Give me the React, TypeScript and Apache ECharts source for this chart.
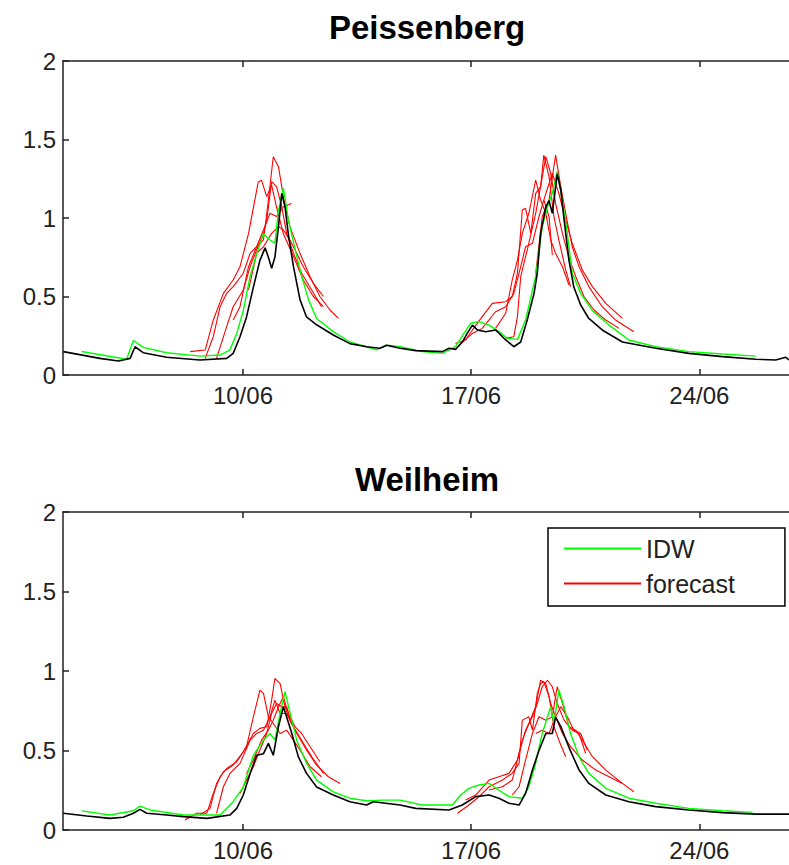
import React, { useEffect, useRef } from "react";
import * as echarts from "echarts";

// ---------- axes ----------
const X_MIN = 4.48; // day of June at left edge of plots
const X_MAX = 26.75; // day of June at right edge
const X_TICKS = [10, 17, 24];
const X_TICK_LABELS = ["10/06", "17/06", "24/06"];
const Y_MIN = 0;
const Y_MAX = 2;
const Y_STEP = 0.5;
const PANEL_TITLES = ["Peissenberg", "Weilheim"];
const LEGEND_NAMES = ["IDW", "forecast"];

// ---------- Peissenberg ----------
const peisObserved = [
  [4.49, 0.149], [5.61, 0.106], [6.18, 0.089], [6.54, 0.106], [6.69, 0.18], [6.94, 0.142],
  [7.66, 0.113], [8.68, 0.096], [9.5, 0.106], [9.7, 0.138], [9.91, 0.244], [10.11, 0.37],
  [10.32, 0.56], [10.52, 0.73], [10.68, 0.81], [10.78, 0.75], [10.88, 0.68], [10.98, 0.75],
  [11.09, 0.945], [11.19, 1.157], [11.29, 1.07], [11.39, 0.9], [11.55, 0.69], [11.75, 0.48],
  [11.95, 0.37], [12.26, 0.32], [12.77, 0.255], [13.28, 0.2], [13.79, 0.18], [14.2, 0.17],
  [14.41, 0.19], [14.82, 0.17], [15.3, 0.155], [16.12, 0.149], [16.32, 0.17], [16.52, 0.163],
  [16.73, 0.21], [16.88, 0.265], [17.04, 0.318], [17.19, 0.287], [17.45, 0.276], [17.75, 0.287],
  [18.06, 0.223], [18.31, 0.18], [18.52, 0.21], [18.72, 0.35], [18.93, 0.52], [19.03, 0.65],
  [19.13, 0.9], [19.29, 1.07], [19.39, 1.11], [19.49, 1.03], [19.64, 1.28], [19.75, 1.18],
  [19.85, 0.99], [20.0, 0.73], [20.15, 0.56], [20.36, 0.446], [20.61, 0.36], [21.02, 0.287],
  [21.64, 0.21], [22.66, 0.17], [23.68, 0.138], [24.71, 0.117], [25.73, 0.1], [26.34, 0.096],
  [26.65, 0.113], [26.75, 0.096],
];
const peisIDW = [
  [5.05, 0.15], [6.43, 0.1], [6.64, 0.22], [6.94, 0.176], [7.66, 0.142], [8.68, 0.12],
  [9.3, 0.127], [9.6, 0.16], [9.81, 0.265], [10.01, 0.41], [10.22, 0.63], [10.42, 0.77],
  [10.63, 0.9], [10.83, 0.86], [10.98, 0.84], [11.09, 1.05], [11.24, 1.19], [11.39, 0.99],
  [11.6, 0.8], [11.8, 0.63], [12.01, 0.48], [12.26, 0.36], [12.77, 0.276], [13.28, 0.21],
  [13.79, 0.18], [14.1, 0.16], [14.41, 0.19], [14.82, 0.18], [15.5, 0.149], [16.12, 0.138],
  [16.52, 0.18], [16.78, 0.265], [16.99, 0.33], [17.24, 0.34], [17.55, 0.318], [17.85, 0.276],
  [18.11, 0.234], [18.42, 0.227], [18.67, 0.35], [18.98, 0.63], [19.18, 0.945], [19.34, 1.07],
  [19.49, 1.157], [19.64, 1.295], [19.8, 1.11], [19.95, 0.9], [20.1, 0.65], [20.36, 0.52],
  [20.72, 0.41], [21.23, 0.318], [21.84, 0.223], [22.66, 0.18], [23.68, 0.149], [24.71, 0.134],
  [25.73, 0.12],
];
const peisFc1 = [
  [8.38, 0.149], [8.84, 0.159], [9.09, 0.35], [9.4, 0.52], [9.7, 0.605], [9.91, 0.69],
  [10.17, 0.9], [10.47, 1.23], [10.57, 1.24], [10.73, 1.136], [10.88, 1.21], [11.03, 1.07],
  [11.24, 0.9], [11.55, 0.754], [11.85, 0.605], [12.16, 0.5], [12.47, 0.435],
];
const peisFc2 = [
  [8.84, 0.106], [9.09, 0.244], [9.3, 0.435], [9.5, 0.52], [9.7, 0.563], [10.01, 0.648],
  [10.22, 0.775], [10.42, 0.817], [10.63, 0.86], [10.78, 1.115], [10.93, 1.39], [11.09, 1.327],
  [11.24, 1.136], [11.44, 0.945], [11.75, 0.775], [12.06, 0.626], [12.36, 0.5], [12.67, 0.414],
  [12.93, 0.361],
];
const peisFc3 = [
  [9.19, 0.106], [9.5, 0.308], [9.7, 0.435], [10.01, 0.541], [10.22, 0.69], [10.42, 0.796],
  [10.63, 0.902], [10.73, 0.987], [10.88, 1.231], [11.03, 1.2], [11.19, 1.072], [11.34, 0.902],
  [11.55, 0.775], [11.8, 0.648], [12.11, 0.541], [12.41, 0.435],
];
const peisFc4 = [
  [9.7, 0.35], [9.91, 0.435], [10.17, 0.69], [10.42, 0.817], [10.63, 0.924], [10.83, 1.03],
  [11.03, 1.01], [11.24, 1.072], [11.49, 1.093],
];
const peisFc5 = [
  [10.17, 0.541], [10.42, 0.775], [10.63, 0.817], [10.88, 0.902], [11.09, 0.945], [11.24, 0.924],
  [11.44, 0.86], [11.65, 0.775], [11.85, 0.69], [12.16, 0.584], [12.47, 0.5],
];
const peisFc6 = [
  [16.52, 0.2], [16.83, 0.223], [17.04, 0.287], [17.34, 0.372], [17.65, 0.456], [18.06, 0.467],
  [18.26, 0.5], [18.42, 0.648], [18.57, 1.051], [18.67, 1.062], [18.83, 0.902], [18.98, 1.157],
  [19.13, 1.2], [19.23, 1.401], [19.39, 1.263], [19.54, 1.008], [19.69, 0.86], [19.9, 0.669],
  [20.05, 0.563],
];
const peisFc7 = [
  [16.68, 0.2], [17.04, 0.265], [17.34, 0.297], [17.75, 0.403], [18.06, 0.435], [18.31, 0.52],
  [18.52, 0.69], [18.67, 0.817], [18.88, 0.839], [19.08, 1.008], [19.23, 1.115], [19.39, 1.008],
  [19.49, 0.764],
];
const peisFc8 = [
  [17.75, 0.297], [18.06, 0.393], [18.26, 0.605], [18.42, 0.732], [18.57, 0.902], [18.77, 1.03],
  [18.98, 1.242], [19.13, 1.115], [19.29, 1.03], [19.44, 0.86], [19.59, 0.775], [19.8, 0.69],
  [20.0, 0.573],
];
const peisFc9 = [
  [18.06, 0.234], [18.31, 0.244], [18.42, 0.372], [18.52, 0.626], [18.72, 0.796], [18.98, 1.03],
  [19.13, 1.2], [19.29, 1.391], [19.44, 1.285], [19.59, 1.093], [19.8, 0.902], [19.99, 0.754],
  [20.21, 0.626], [20.46, 0.5], [20.77, 0.414], [21.13, 0.35], [21.54, 0.297],
];
const peisFc10 = [
  [18.98, 0.648], [19.18, 1.008], [19.39, 1.115], [19.59, 1.401], [19.75, 1.2], [19.9, 1.03],
  [20.1, 0.817], [20.31, 0.69], [20.61, 0.563], [21.02, 0.435], [21.43, 0.35], [21.99, 0.276],
];
const peisFc11 = [
  [19.23, 1.115], [19.49, 1.285], [19.69, 1.157], [19.9, 0.987], [20.1, 0.839], [20.41, 0.669],
  [20.72, 0.563], [21.13, 0.456], [21.64, 0.361],
];

// ---------- Weilheim ----------
const weilObserved = [
  [4.49, 0.105], [5.21, 0.088], [5.92, 0.073], [6.33, 0.08], [6.64, 0.105], [6.84, 0.13],
  [7.05, 0.105], [7.66, 0.094], [8.17, 0.084], [8.89, 0.073], [9.6, 0.094], [9.81, 0.136],
  [10.01, 0.22], [10.22, 0.356], [10.42, 0.47], [10.63, 0.48], [10.78, 0.545], [10.93, 0.47],
  [11.09, 0.65], [11.24, 0.775], [11.34, 0.71], [11.5, 0.607], [11.7, 0.46], [11.95, 0.356],
  [12.26, 0.27], [12.77, 0.22], [13.28, 0.178], [13.79, 0.157], [14.0, 0.178], [14.31, 0.17],
  [14.82, 0.157], [15.3, 0.136], [16.32, 0.126], [16.73, 0.157], [17.14, 0.21], [17.55, 0.22],
  [17.85, 0.2], [18.16, 0.168], [18.47, 0.157], [18.67, 0.23], [18.88, 0.377], [19.08, 0.5],
  [19.29, 0.607], [19.49, 0.607], [19.59, 0.71], [19.75, 0.65], [20.0, 0.52], [20.31, 0.377],
  [20.61, 0.293], [21.13, 0.22], [21.84, 0.178], [22.66, 0.147], [23.68, 0.126], [24.71, 0.109],
  [25.73, 0.1], [26.75, 0.1],
];
const weilIDW = [
  [5.05, 0.12], [5.92, 0.094], [6.64, 0.121], [6.84, 0.15], [7.15, 0.126], [8.17, 0.094],
  [9.3, 0.094], [9.7, 0.178], [10.01, 0.27], [10.32, 0.47], [10.63, 0.565], [10.83, 0.607],
  [10.98, 0.565], [11.14, 0.733], [11.29, 0.87], [11.45, 0.733], [11.65, 0.565], [11.95, 0.42],
  [12.26, 0.314], [12.77, 0.24], [13.28, 0.2], [13.79, 0.184], [14.31, 0.188], [14.82, 0.188],
  [15.5, 0.157], [16.42, 0.157], [16.68, 0.22], [16.93, 0.262], [17.24, 0.283], [17.55, 0.293],
  [17.85, 0.25], [18.16, 0.21], [18.57, 0.2], [18.77, 0.272], [18.98, 0.42], [19.18, 0.607],
  [19.44, 0.775], [19.54, 0.67], [19.69, 0.88], [19.85, 0.775], [20.05, 0.607], [20.31, 0.46],
  [20.61, 0.356], [21.13, 0.262], [21.84, 0.2], [22.66, 0.168], [23.68, 0.136], [24.71, 0.121],
  [25.63, 0.111],
];
const weilFc1 = [
  [8.22, 0.063], [8.58, 0.105], [8.89, 0.105], [9.09, 0.23], [9.3, 0.335], [9.5, 0.387],
  [9.81, 0.429], [10.11, 0.524], [10.32, 0.712], [10.52, 0.88], [10.63, 0.859], [10.78, 0.712],
  [10.93, 0.67], [11.14, 0.607], [11.34, 0.628], [11.55, 0.565], [11.75, 0.503], [12.06, 0.398],
  [12.41, 0.335],
];
const weilFc2 = [
  [8.68, 0.094], [8.99, 0.136], [9.19, 0.293], [9.4, 0.366], [9.7, 0.408], [10.01, 0.492],
  [10.32, 0.607], [10.52, 0.639], [10.73, 0.649], [10.88, 0.817], [10.98, 0.953], [11.14, 0.921],
  [11.29, 0.775], [11.44, 0.691], [11.65, 0.607], [11.95, 0.503], [12.26, 0.408], [12.62, 0.335],
  [12.98, 0.293],
];
const weilFc3 = [
  [9.19, 0.105], [9.4, 0.272], [9.6, 0.356], [9.91, 0.419], [10.22, 0.565], [10.42, 0.607],
  [10.63, 0.628], [10.83, 0.712], [10.98, 0.817], [11.14, 0.733], [11.34, 0.733], [11.55, 0.649],
  [11.8, 0.565], [12.11, 0.461], [12.47, 0.356],
];
const weilFc4 = [
  [9.91, 0.23], [10.11, 0.314], [10.32, 0.398], [10.52, 0.503], [10.73, 0.607], [10.88, 0.733],
  [11.03, 0.796], [11.19, 0.775], [11.34, 0.775], [11.49, 0.67],
];
const weilFc5 = [
  [10.11, 0.356], [10.32, 0.44], [10.57, 0.565], [10.78, 0.628], [10.93, 0.691], [11.09, 0.775],
  [11.24, 0.838], [11.39, 0.733], [11.6, 0.649], [11.8, 0.607], [12.06, 0.524], [12.36, 0.429],
];
const weilFc6 = [
  [16.58, 0.105], [16.93, 0.157], [17.24, 0.209], [17.55, 0.272], [17.96, 0.314], [18.26, 0.356],
  [18.47, 0.419], [18.57, 0.691], [18.77, 0.712], [18.88, 0.628], [19.03, 0.859], [19.13, 0.921],
  [19.23, 0.932], [19.39, 0.838], [19.54, 0.649], [19.69, 0.565], [19.9, 0.461],
];
const weilFc7 = [
  [16.83, 0.188], [17.14, 0.22], [17.55, 0.314], [17.85, 0.335], [18.16, 0.356], [18.42, 0.44],
  [18.57, 0.565], [18.77, 0.67], [18.98, 0.775], [19.13, 0.942], [19.29, 0.921], [19.44, 0.796],
  [19.59, 0.712], [19.8, 0.607], [20.05, 0.524], [20.41, 0.44], [20.82, 0.377], [21.23, 0.335],
  [21.64, 0.293], [21.99, 0.241],
];
const weilFc8 = [
  [17.55, 0.251], [17.96, 0.272], [18.26, 0.314], [18.47, 0.482], [18.67, 0.628], [18.88, 0.712],
  [19.03, 0.796], [19.18, 0.901], [19.34, 0.942], [19.49, 0.901], [19.64, 0.796], [19.85, 0.691],
  [20.1, 0.628], [20.31, 0.607], [20.51, 0.482],
];
const weilFc9 = [
  [18.26, 0.22], [18.47, 0.272], [18.67, 0.44], [18.88, 0.607], [19.08, 0.712], [19.29, 0.691],
  [19.49, 0.712], [19.64, 0.901], [19.8, 0.796], [20.0, 0.649], [20.21, 0.628], [20.41, 0.565],
  [20.72, 0.461], [21.13, 0.377], [21.64, 0.293],
];
const weilFc10 = [
  [18.98, 0.607], [19.18, 0.628], [19.39, 0.607], [19.59, 0.712], [19.75, 0.775], [19.95, 0.712],
  [20.15, 0.628], [20.36, 0.607], [20.56, 0.503],
];

const peisForecasts = [peisFc1, peisFc2, peisFc3, peisFc4, peisFc5, peisFc6, peisFc7, peisFc8, peisFc9, peisFc10, peisFc11];
const weilForecasts = [weilFc1, weilFc2, weilFc3, weilFc4, weilFc5, weilFc6, weilFc7, weilFc8, weilFc9, weilFc10];

const FONT = "'Liberation Sans', Arial, Helvetica, sans-serif";
const AXIS_COLOR = "#222";
const TEXT_COLOR = "#222";

function buildOption() {
  const grids = [
    { left: 63, top: 61, right: 0, height: 314 },
    { left: 63, top: 512, right: 0, height: 318 },
  ];
  const xAxis: any[] = [];
  const yAxis: any[] = [];
  grids.forEach((_, g) => {
    const common = {
      type: "value",
      gridIndex: g,
      min: X_MIN,
      max: X_MAX,
      splitLine: { show: false },
      axisLine: { show: true, onZero: false, lineStyle: { color: AXIS_COLOR, width: 1.5 } },
      axisTick: {
        show: true,
        inside: true,
        length: 6,
        customValues: X_TICKS,
        lineStyle: { color: AXIS_COLOR, width: 1.5 },
      },
    };
    xAxis.push({
      ...common,
      position: "bottom",
      axisLabel: {
        show: true,
        customValues: X_TICKS,
        formatter: (v: number) => {
          const i = X_TICKS.indexOf(Math.round(v));
          return i >= 0 ? X_TICK_LABELS[i] : "";
        },
        color: TEXT_COLOR,
        fontSize: 24,
        fontFamily: FONT,
        margin: 8,
      },
    });
    xAxis.push({ ...common, position: "top", axisLabel: { show: false } });
    yAxis.push({
      type: "value",
      gridIndex: g,
      min: Y_MIN,
      max: Y_MAX,
      interval: Y_STEP,
      splitLine: { show: false },
      axisLine: { show: true, onZero: false, lineStyle: { color: AXIS_COLOR, width: 1.5 } },
      axisTick: { show: true, inside: true, length: 6, lineStyle: { color: AXIS_COLOR, width: 1.5 } },
      axisLabel: { color: TEXT_COLOR, fontSize: 24, fontFamily: FONT, margin: 7 },
    });
  });

  const mk = (name: string, data: number[][], color: string, width: number, g: number, z: number) => ({
    type: "line",
    name,
    data,
    xAxisIndex: g * 2,
    yAxisIndex: g,
    color,
    showSymbol: false,
    symbol: "none",
    silent: true,
    z,
    lineStyle: { color, width },
    itemStyle: { color },
  });

  const series: any[] = [];
  const panels = [
    { obs: peisObserved, idw: peisIDW, fc: peisForecasts },
    { obs: weilObserved, idw: weilIDW, fc: weilForecasts },
  ];
  panels.forEach((p, g) => {
    series.push(mk(LEGEND_NAMES[0], p.idw, "#00ff00", 1.4, g, 3));
    p.fc.forEach((f) => series.push(mk(LEGEND_NAMES[1], f, "#ff0000", 1.1, g, 2)));
    series.push(mk("observed", p.obs, "#000000", 1.6, g, 4));
  });

  return {
    animation: false,
    backgroundColor: "#ffffff",
    title: [
      {
        text: PANEL_TITLES[0],
        left: 427,
        top: 27,
        padding: 0,
        textAlign: "center",
        textVerticalAlign: "middle",
        textStyle: { fontSize: 33, fontWeight: "bold", color: "#000", fontFamily: FONT },
      },
      {
        text: PANEL_TITLES[1],
        left: 427,
        top: 479,
        padding: 0,
        textAlign: "center",
        textVerticalAlign: "middle",
        textStyle: { fontSize: 33, fontWeight: "bold", color: "#000", fontFamily: FONT },
      },
    ],
    legend: {
      data: LEGEND_NAMES,
      orient: "vertical",
      left: 548,
      top: 528,
      padding: [8, 50, 10, 16],
      itemWidth: 77,
      itemHeight: 2,
      itemGap: 10,
      icon: "rect",
      borderColor: "#000",
      borderWidth: 1.5,
      backgroundColor: "#fff",
      selectedMode: false,
      textStyle: { fontSize: 25, color: TEXT_COLOR, fontFamily: FONT },
    },
    grid: grids,
    xAxis,
    yAxis,
    series,
  };
}

export default function App() {
  const ref = useRef<HTMLDivElement>(null);
  useEffect(() => {
    document.body.style.margin = "0";
    if (!ref.current) return;
    const chart = echarts.init(ref.current, undefined, { renderer: "svg" });
    chart.setOption(buildOption() as any);
    return () => chart.dispose();
  }, []);
  return <div ref={ref} style={{ width: 789, height: 865, background: "#fff" }} />;
}
